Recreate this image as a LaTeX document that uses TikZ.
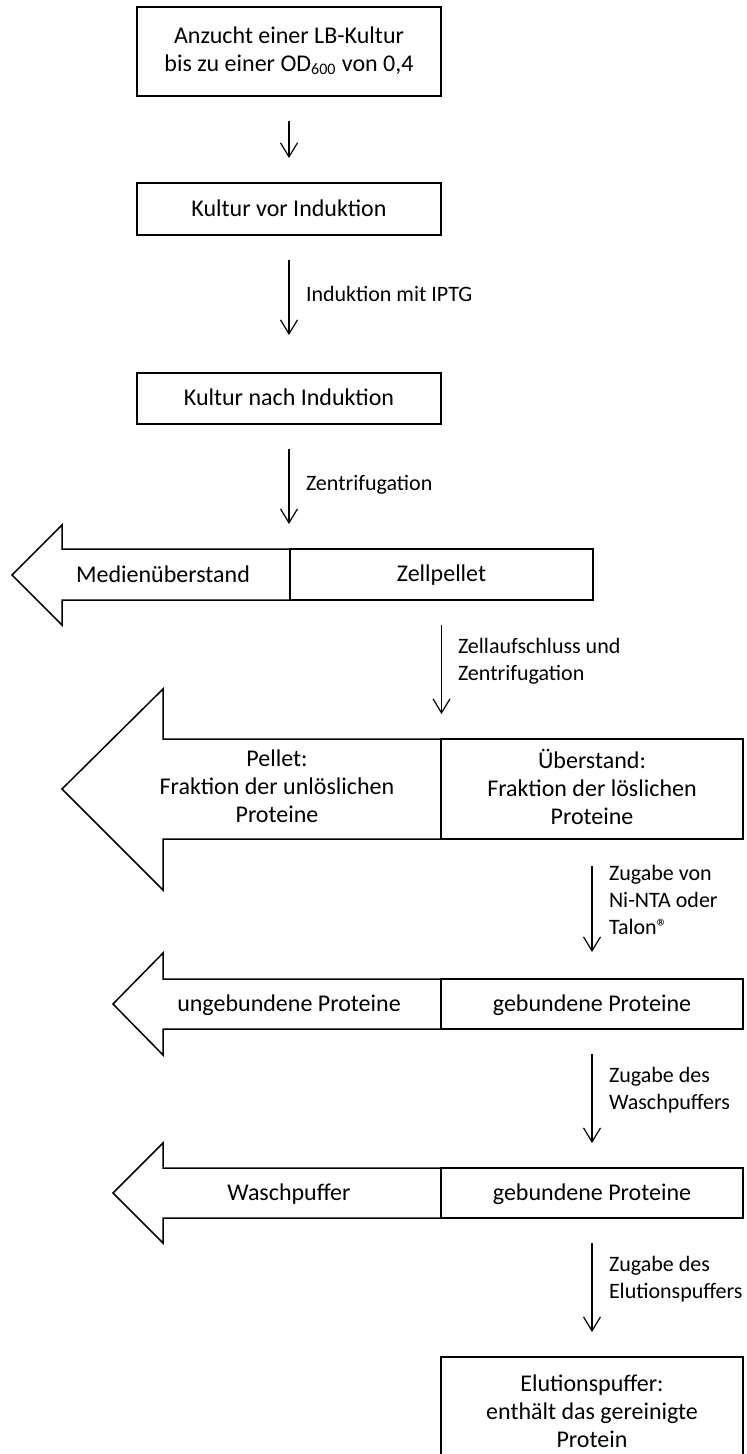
\documentclass[tikz,border=0pt]{standalone}
\usepackage{fontspec}
\setmainfont{Carlito}
\usetikzlibrary{arrows.meta}
\newcommand{\topstrut}{\rule{0pt}{9pt}}
\newcommand{\botstrut}{\rule[-2.4pt]{0pt}{2.4pt}}
\newcommand{\bigtopstrut}{\rule{0pt}{9.8pt}}
\newcommand{\bigbotstrut}{\rule[-2.6pt]{0pt}{2.6pt}}
\begin{document}
\begin{tikzpicture}[x=0.5pt,y=-0.5pt,
  base/.style={inner sep=0pt, outer sep=0pt, font=\fontsize{12}{14}\selectfont,
    execute at begin node=\bigtopstrut, execute at end node=\bigbotstrut},
  box/.style={base, draw, line width=0.75pt, align=center},
  txt/.style={base, align=center},
  lbl/.style={inner sep=0pt, outer sep=0pt, font=\fontsize{11}{13.5}\selectfont,
    execute at begin node=\topstrut, execute at end node=\botstrut, anchor=west, align=left},
  flow/.style={-{Straight Barb[length=7pt,width=8.5pt]}, line width=0.6pt, shorten <=12.5pt, shorten >=12.5pt},
  outl/.style={draw, line width=0.75pt, line join=miter}]
\useasboundingbox (0,0) rectangle (747,1454);
\clip (0,0) rectangle (747,1454);
% boxes
\node[box, minimum width=152pt, minimum height=44.5pt] (b1) at (289,51.5) {Anzucht einer LB-Kultur\\bis zu einer OD\textsubscript{600} von 0,4};
\node[box, minimum width=152pt, minimum height=26pt] (b2) at (289,209) {Kultur vor Induktion};
\node[box, minimum width=152pt, minimum height=25.5pt] (b3) at (289,398.5) {Kultur nach Induktion};
% split arrow 1
\node[box, minimum width=151.5pt, minimum height=25.5pt] (s1r) at (441.5,574.5) {Zellpellet};
\draw[outl] (s1r.north west) -- (62,549) -- (62,525) -- (12,575) -- (62,625) -- (62,600) -- (s1r.south west);
\node[txt] (s1l) at (163,575) {Medienüberstand};
% split arrow 2
\node[box, minimum width=151pt, minimum height=50pt] (s2r) at (592,789) {Überstand:\\Fraktion der löslichen\\Proteine};
\draw[outl] (s2r.north west) -- (163,739) -- (163,689) -- (62,789) -- (163,890) -- (163,839) -- (s2r.south west);
\node[txt] (s2l) at (277,789) {Pellet:\\Fraktion der unlöslichen\\Proteine};
% split arrow 3
\node[box, minimum width=151pt, minimum height=25pt] (s3r) at (592,1004) {gebundene Proteine};
\draw[outl] (s3r.north west) -- (163,979) -- (163,953) -- (113,1004) -- (163,1055) -- (163,1029) -- (s3r.south west);
\node[txt] (s3l) at (289,1004) {ungebundene Proteine};
% split arrow 4
\node[box, minimum width=151pt, minimum height=25pt] (s4r) at (592,1193) {gebundene Proteine};
\draw[outl] (s4r.north west) -- (163,1168) -- (163,1143) -- (113,1193) -- (163,1243) -- (163,1218) -- (s4r.south west);
\node[txt] (s4l) at (289,1193) {Waschpuffer};
% final box
\node[box, minimum width=151pt, minimum height=56.5pt] (fin) at (592,1413.5) {Elutionspuffer:\\enthält das gereinigte\\Protein};
% connectors
\draw[flow] (b1.south) -- (b2.north);
\draw[flow, shorten >=19pt] (b2.south) -- (b3.north);
\node[lbl] (l2) at (306,295) {Induktion mit IPTG};
\draw[flow] (b3.south) -- (b3.south |- s1r.north);
\node[lbl] (l3) at (306,484) {Zentrifugation};
\draw[flow] (s1r.south) -- (s1r.south |- s2r.north);
\node[lbl] (l4) at (458,661.5) {Zellaufschluss und\\Zentrifugation};
\draw[flow, shorten <=13.5pt, shorten >=13.5pt] (s2r.south) -- (s3r.north);
\node[lbl] (l5) at (609,902) {Zugabe von\\Ni-NTA oder\\Talon®};
\draw[flow] (s3r.south) -- (s4r.north);
\node[lbl] (l6) at (609,1091) {Zugabe des\\Waschpuffers};
\draw[flow] (s4r.south) -- (fin.north);
\node[lbl] (l7) at (609,1280) {Zugabe des\\Elutionspuffers};
\end{tikzpicture}
\end{document}
